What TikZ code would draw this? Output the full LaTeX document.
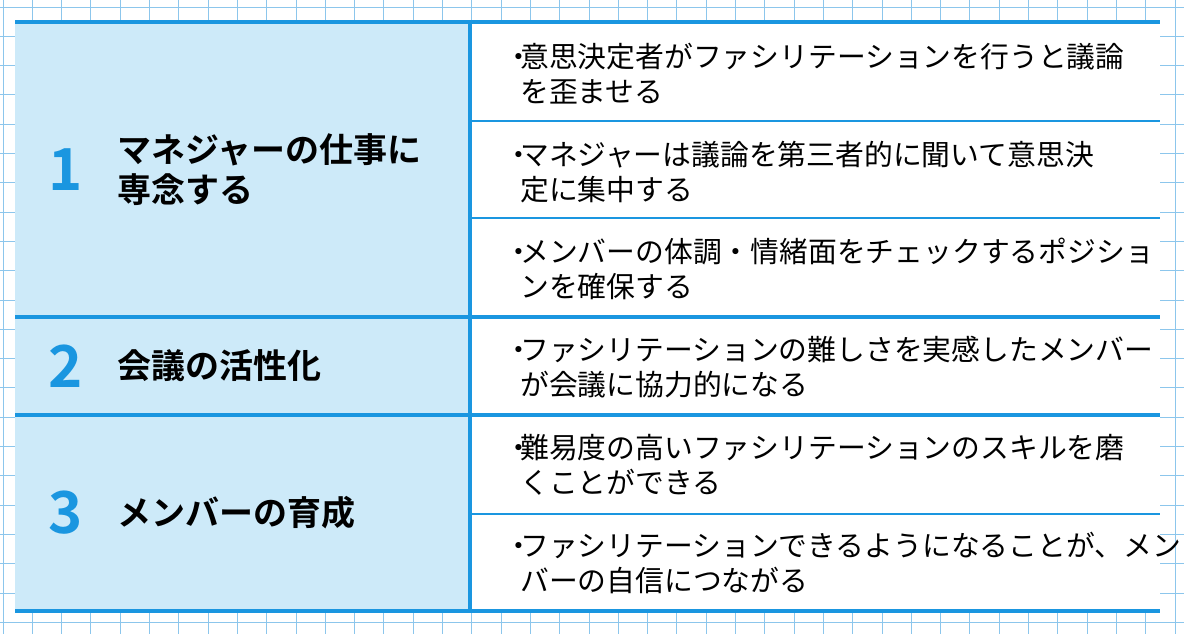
\documentclass[tikz,border=0pt]{standalone}
\usepackage{fontspec}
\newfontfamily\jp{Noto Sans CJK JP}
\newfontfamily\jpb{Noto Sans CJK JP Bold}
\usetikzlibrary{positioning}
\definecolor{lineblue}{HTML}{1A96E0}
\definecolor{gridblue}{HTML}{8CC6EC}
\definecolor{cellblue}{HTML}{CDEAF9}
\newcommand{\bul}[2]{\makebox[16pt][l]{・}#1\\\hspace*{16pt}#2}
\tikzset{
  item/.style = {anchor=west, align=left, inner sep=0pt,
    font=\jp\fontsize{28.8}{35}\selectfont},
  num/.style = {anchor=center, text=lineblue, inner sep=0pt,
    font=\jpb\fontsize{58}{58}\selectfont},
  head/.style = {anchor=west, align=left, inner sep=0pt,
    font=\jpb\fontsize{34}{40}\selectfont},
  thick rule/.style = {draw=lineblue, line width=3.5pt},
  thin rule/.style = {draw=lineblue, line width=1.5pt}
}
\begin{document}
\begin{tikzpicture}[x=1pt, y=-1pt]
  \useasboundingbox (0,0) rectangle (1184,634);
  \fill[white] (0,0) rectangle (1184,634);
  % background grid
  \foreach \gx in {3,32.3,...,1184} \draw[gridblue, line width=0.9pt] (\gx,0) -- (\gx,634);
  \foreach \gy in {7,36.3,...,634} \draw[gridblue, line width=0.9pt] (0,\gy) -- (1184,\gy);
  % table
  \fill[white] (15,22) rectangle (1160,611);
  \fill[cellblue] (15,22) rectangle (470,611);
  \draw[thin rule] (470,121) -- (1160,121);
  \draw[thin rule] (470,218) -- (1160,218);
  \draw[thin rule] (470,514) -- (1160,514);
  \draw[thick rule] (15,22) -- (1160,22);
  \draw[thick rule] (15,317) -- (1160,317);
  \draw[thick rule] (15,415) -- (1160,415);
  \draw[thick rule] (15,611) -- (1160,611);
  \draw[thick rule] (470,22) -- (470,611);
  % left column
  \node[num] (n1) at (66,170) {1};
  \node[head] (h1) at (117,170) {マネジャーの仕事に\\専念する};
  \node[num] (n2) at (66,366) {2};
  \node[head] (h2) at (117,366) {会議の活性化};
  \node[num] (n3) at (66,513) {3};
  \node[head] (h3) at (117,513) {メンバーの育成};
  % right column
  \node[item] (r1) at (504,74) {\bul{意思決定者がファシリテーションを行うと議論}{を歪ませる}};
  \node[item] (r2) at (504,172) {\bul{マネジャーは議論を第三者的に聞いて意思決}{定に集中する}};
  \node[item] (r3) at (504,269) {\bul{メンバーの体調・情緒面をチェックするポジショ}{ンを確保する}};
  \node[item] (r4) at (504,367) {\bul{ファシリテーションの難しさを実感したメンバー}{が会議に協力的になる}};
  \node[item] (r5) at (504,465) {\bul{難易度の高いファシリテーションのスキルを磨}{くことができる}};
  \node[item] (r6) at (504,563) {\bul{ファシリテーションできるようになることが、メン}{バーの自信につながる}};
\end{tikzpicture}
\end{document}
